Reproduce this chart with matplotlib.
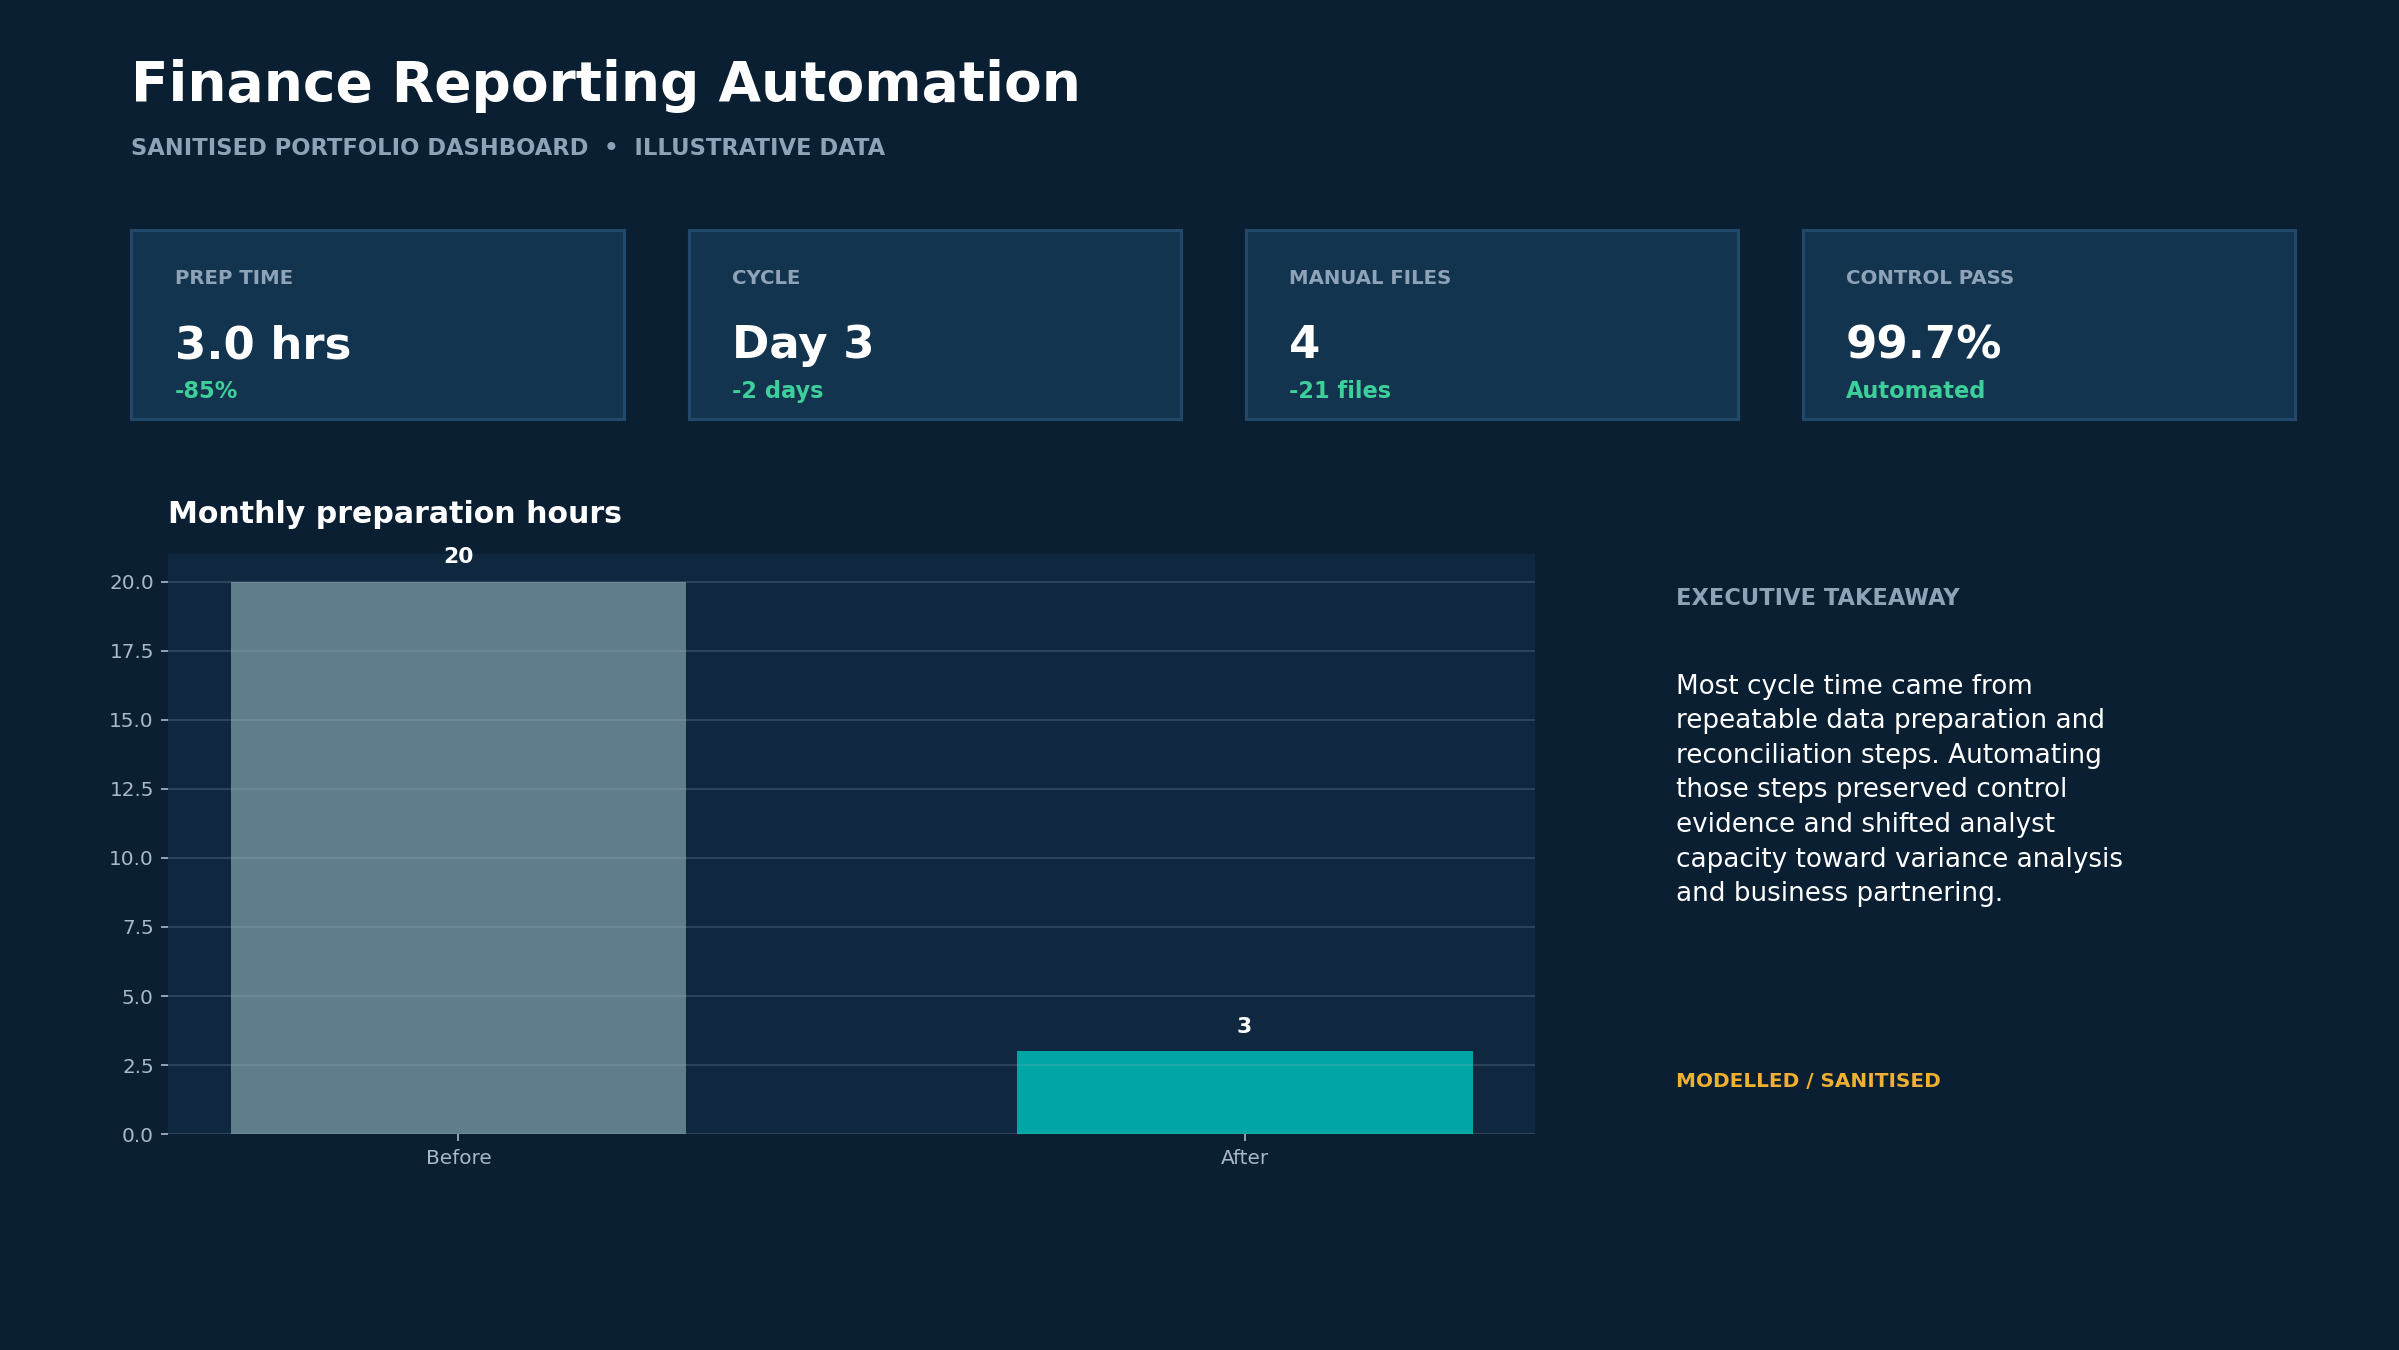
import matplotlib.pyplot as plt
from matplotlib.patches import Rectangle

# data
stages = ['Before', 'After']
prep_hours = [20, 3]
bar_colors = ['#607d8b', '#00a6a6']

kpi_labels = ['PREP TIME', 'CYCLE', 'MANUAL FILES', 'CONTROL PASS']
kpi_values = ['3.0 hrs', 'Day 3', '4', '99.7%']
kpi_deltas = ['-85%', '-2 days', '-21 files', 'Automated']

takeaway = ("Most cycle time came from\n"
            "repeatable data preparation and\n"
            "reconciliation steps. Automating\n"
            "those steps preserved control\n"
            "evidence and shifted analyst\n"
            "capacity toward variance analysis\n"
            "and business partnering.")

BG = '#0b1f33'
CARD = '#13344f'
CARD_EDGE = '#22496a'
AX_BG = '#0f2840'
MUTED = '#8fa3b8'
GREEN = '#3ecf9a'
ORANGE = '#f0b030'

fig = plt.figure(figsize=(2399 / 150, 9), dpi=150, facecolor=BG)

# header
fig.text(0.0548, 0.936, 'Finance Reporting Automation', color='white',
         fontsize=26.4, fontweight='bold', va='center')
fig.text(0.0548, 0.890, 'SANITISED PORTFOLIO DASHBOARD  \u2022  ILLUSTRATIVE DATA',
         color=MUTED, fontsize=10.85, fontweight='bold', va='center')

# kpi cards
card_w = 0.2054
card_gap = 0.0268
card_y0 = 0.690
card_h = 0.140
for i in range(len(kpi_labels)):
    x0 = 0.0548 + i * (card_w + card_gap)
    fig.patches.append(Rectangle((x0, card_y0), card_w, card_h, transform=fig.transFigure,
                                 facecolor=CARD, edgecolor=CARD_EDGE, linewidth=1.5))
    fig.text(x0 + 0.018, 0.794, kpi_labels[i], color=MUTED, fontsize=9.5,
             fontweight='bold', va='center')
    fig.text(x0 + 0.018, 0.744, kpi_values[i], color='white', fontsize=21.6,
             fontweight='bold', va='center')
    fig.text(x0 + 0.018, 0.710, kpi_deltas[i], color=GREEN, fontsize=10.8,
             fontweight='bold', va='center')

# bar chart
ax = fig.add_axes([0.0702, 0.1599, 0.5695, 0.4297])
ax.set_facecolor(AX_BG)
bars = ax.bar(stages, prep_hours, width=0.58, color=bar_colors, zorder=2)
for b, v in zip(bars, prep_hours):
    ax.annotate(str(v), (b.get_x() + b.get_width() / 2, v), xytext=(0, 7),
                textcoords='offset points', ha='center', va='bottom',
                color='white', fontsize=10.5, fontweight='bold')
ax.set_title('Monthly preparation hours', loc='left', color='white',
             fontsize=14.4, fontweight='bold', pad=15)
ax.grid(axis='y', color='#a0b4c8', alpha=0.2, linewidth=1, zorder=3)
ax.set_axisbelow(False)
for s in ax.spines.values():
    s.set_visible(False)
ax.tick_params(colors='#a9b8c8', labelsize=9.6)

# takeaway panel
fig.text(0.6985, 0.557, 'EXECUTIVE TAKEAWAY', color=MUTED, fontsize=10.8,
         fontweight='bold', va='center')
fig.text(0.6985, 0.501, takeaway, color='white', fontsize=12.6, va='top',
         linespacing=1.43)
fig.text(0.6985, 0.199, 'MODELLED / SANITISED', color=ORANGE, fontsize=9.6,
         fontweight='bold', va='center')

fig.savefig('out.png', dpi=150, facecolor=BG)
